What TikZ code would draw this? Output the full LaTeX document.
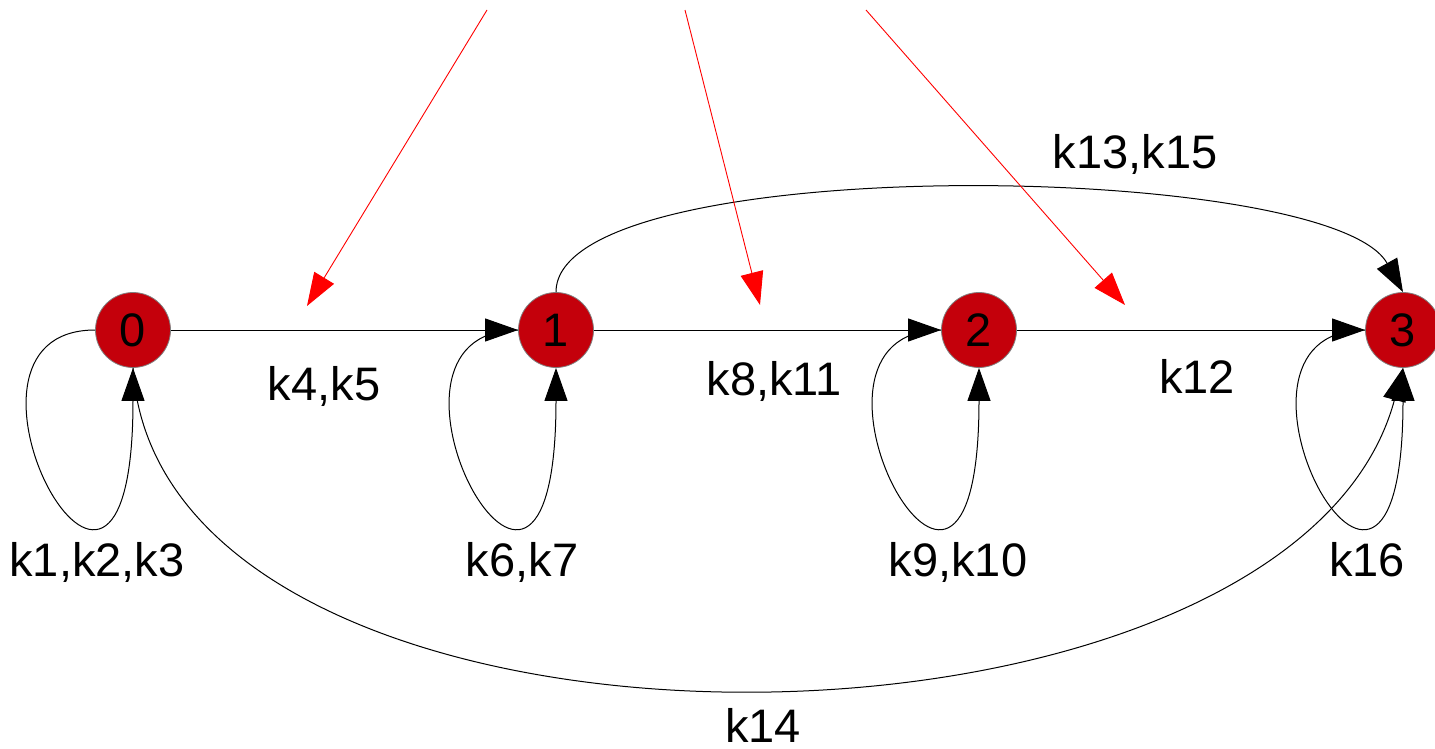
\documentclass[tikz,border=0pt]{standalone}
\usepackage{fontspec}
\setmainfont{Liberation Sans}
\usetikzlibrary{arrows.meta,calc}
\definecolor{nodered}{RGB}{196,0,11}
\begin{document}
\begin{tikzpicture}[x=1pt,y=-1pt,
  state/.style={circle, draw=gray, line width=0.8pt, fill=nodered, minimum size=75pt, inner sep=0pt, font=\fontsize{47}{56}\selectfont},
  lbl/.style={font=\fontsize{47}{56}\selectfont, inner sep=0pt, anchor=base},
  edge/.style={line width=1pt, -{Triangle[length=33pt,width=23pt]}},
  redarrow/.style={red, line width=0.9pt, -{Triangle[length=33pt,width=23pt]}}]
\useasboundingbox (0,0) rectangle (1435,749);
\node[state] (n0) at (133,330) {0};
\node[state] (n1) at (556,330) {1};
\node[state] (n2) at (979,330) {2};
\node[state] (n3) at (1403,330) {3};
% straight edges
\draw[edge] (n0) -- (n1);
\draw[edge] (n1) -- (n2);
\draw[edge] (n2) -- (n3);
% self loops
\foreach \n in {n0,n1,n2,n3}{
  \draw[edge] (\n.west) .. controls ($(\n.west)+(-175,0)$) and ($(\n.south)+(0,360)$) .. (\n.south);
}
% k13,k15
\draw[edge] (n1.north) .. controls ($(n1.north)+(0,-142)$) and (1330,160) .. (n3.north);
% k14
\draw[edge] (n0.south) .. controls (160,800) and (1290,790) .. (n3.south);
% red arrows
\coordinate (r1s) at (487,10); \coordinate (r1e) at (307,306);
\coordinate (r2s) at (685,10); \coordinate (r2e) at (760,305);
\coordinate (r3s) at (866,10); \coordinate (r3e) at (1125,305);
\draw[redarrow] (r1s) -- (r1e);
\draw[redarrow] (r2s) -- (r2e);
\draw[redarrow] (r3s) -- (r3e);
% labels
\node[lbl] (l45) at (324,400) {k4,k5};
\node[lbl] (l811) at (774,395) {k8,k11};
\node[lbl] (l12) at (1197,393) {k12};
\node[lbl] (l1315) at (1135,168) {k13,k15};
\node[lbl] (l123) at (97,576) {k1,k2,k3};
\node[lbl] (l67) at (522,576) {k6,k7};
\node[lbl] (l910) at (958,576) {k9,k10};
\node[lbl] (l16) at (1367,576) {k16};
\node[lbl] (l14) at (763,742) {k14};
\end{tikzpicture}
\end{document}
